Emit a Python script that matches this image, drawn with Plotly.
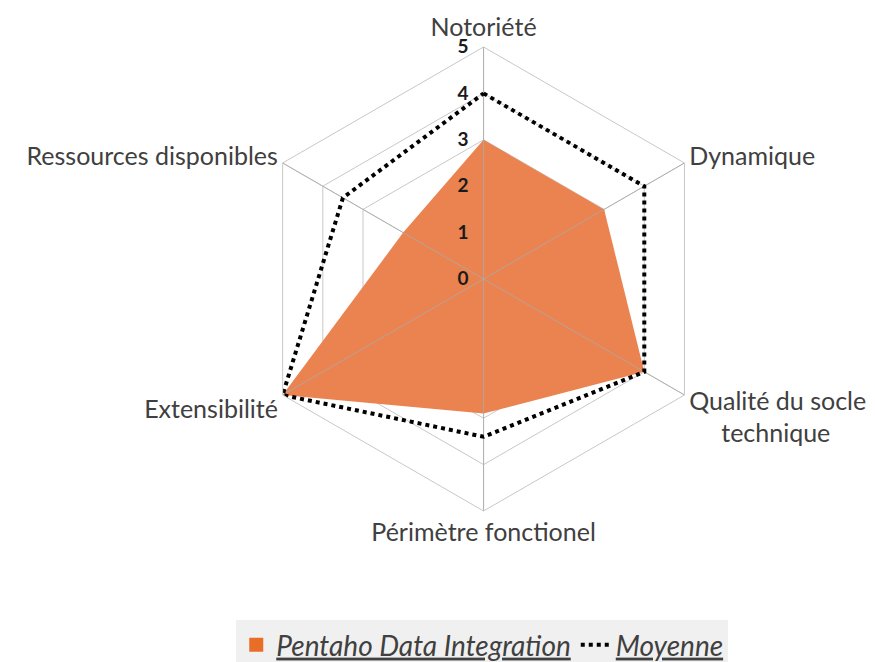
import plotly.graph_objects as go

categories = [
    "Notoriété",
    "Dynamique",
    "Qualité du socle technique",
    "Périmètre fonctionel",
    "Extensibilité",
    "Ressources disponibles",
]
category_labels = [
    "Notoriété",
    "Dynamique",
    "Qualité du socle<br>\u00a0\u00a0\u00a0\u00a0\u00a0technique",
    "Périmètre fonctionel",
    "Extensibilité",
    "Ressources disponibles",
]
pentaho = [3, 3, 4, 2.9, 5, 2]
moyenne = [4, 4, 4, 3.4, 5, 3.5]
radial_ticks = [0, 1, 2, 3, 4, 5]

orange = "rgb(235,131,80)"
pentaho_name = '<i><span style="text-decoration:underline">Pentaho Data Integration</span></i>'

fig = go.Figure()

fig.add_trace(
    go.Scatterpolar(
        r=pentaho + pentaho[:1],
        theta=categories + categories[:1],
        fill="toself",
        fillcolor=orange,
        mode="none",
        name=pentaho_name,
        showlegend=False,
    )
)
# legend entry only: square swatch as in the original legend
fig.add_trace(
    go.Scatterpolar(
        r=[None],
        theta=[None],
        mode="markers",
        marker=dict(symbol="square", size=14, color="rgb(232,110,40)"),
        name=pentaho_name,
    )
)

# spokes drawn over the filled area, like in the original
spoke_r, spoke_t = [], []
for c in categories:
    spoke_r += [0, radial_ticks[-1], None]
    spoke_t += [c, c, c]
fig.add_trace(
    go.Scatterpolar(
        r=spoke_r,
        theta=spoke_t,
        mode="lines",
        line=dict(color="rgba(170,170,170,0.8)", width=1),
        showlegend=False,
        hoverinfo="skip",
    )
)

fig.add_trace(
    go.Scatterpolar(
        r=moyenne + moyenne[:1],
        theta=categories + categories[:1],
        mode="lines",
        line=dict(color="black", width=4, dash="dot"),
        name='<i><span style="text-decoration:underline">Moyenne</span></i>',
    )
)

fig.update_layout(
    width=875,
    height=662,
    margin=dict(l=0, r=0, t=0, b=0),
    paper_bgcolor="white",
    font=dict(family="Lato", size=20, color="#404040"),
    polar=dict(
        domain=dict(x=[0.2778, 0.8092], y=[0.2402, 0.9411]),
        gridshape="linear",
        bgcolor="white",
        angularaxis=dict(
            direction="clockwise",
            rotation=90,
            tickvals=categories,
            ticktext=category_labels,
            showline=True,
            linecolor="#c8c8c8",
            linewidth=1,
            gridcolor="#c8c8c8",
            ticks="",
            tickfont=dict(size=25, color="#404040"),
        ),
        radialaxis=dict(
            range=[0, 5],
            tickvals=radial_ticks,
            angle=90,
            tickangle=90,
            showline=False,
            ticks="outside",
            ticklen=8,
            tickcolor="rgba(0,0,0,0)",
            gridcolor="#c8c8c8",
            tickfont=dict(size=19, color="#1a1a1a", weight="bold"),
            side="counterclockwise",
        ),
    ),
    legend=dict(
        orientation="h",
        x=0.542,
        xanchor="center",
        y=0.0,
        yanchor="bottom",
        bgcolor="#f0f0f0",
        font=dict(size=28, color="#404040"),
    ),
)

fig.write_html("out.html")
